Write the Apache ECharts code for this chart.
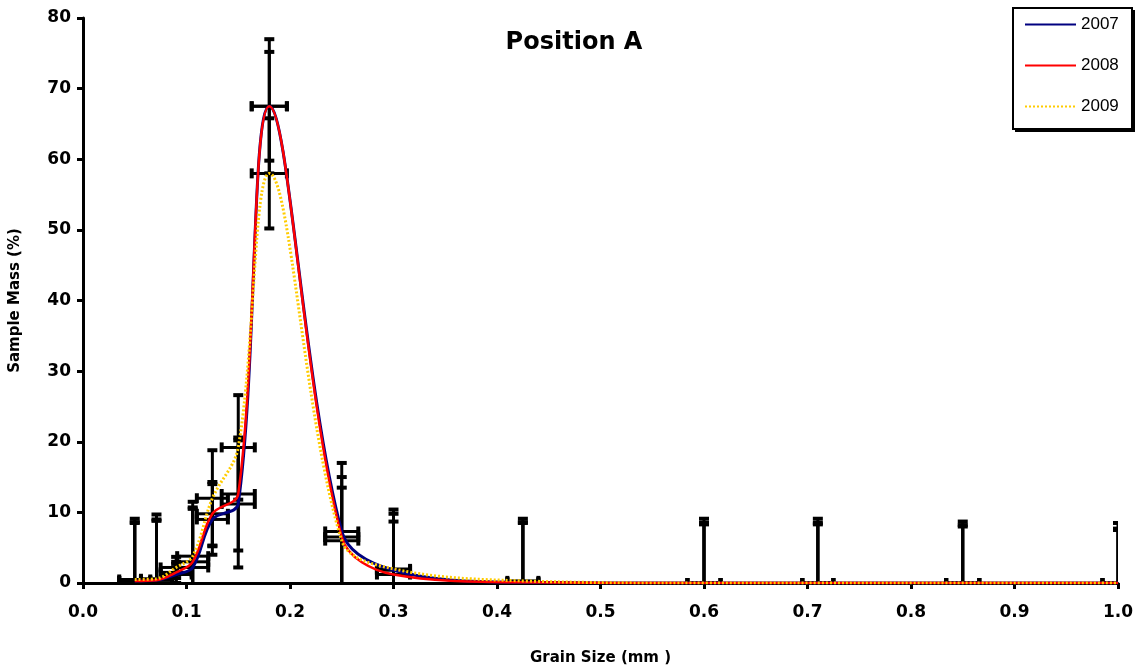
<!DOCTYPE html>
<html>
<head>
<meta charset="utf-8">
<script src="https://cdn.jsdelivr.net/npm/echarts@6/dist/echarts.min.js"></script>
<style>html,body{margin:0;padding:0;background:#fff;}#chart{width:1139px;height:671px;}</style>
</head>
<body>
<div id="chart"></div>
<script>
// Sieve sizes (mm)
const grainSizes = [0.05, 0.071, 0.09, 0.106, 0.125, 0.15, 0.18, 0.25, 0.3, 0.425, 0.6, 0.71, 0.85, 1.0];
// Sample mass (%) per year
const mass2007 = [0.3, 0.4, 1.2, 2.2, 9.0, 11.2, 67.5, 7.3, 1.8, 0.1, 0, 0, 0, 0];
const mass2008 = [0.3, 0.4, 1.5, 3.0, 9.8, 12.6, 67.5, 6.5, 1.2, 0.1, 0, 0, 0, 0];
const mass2009 = [0.5, 0.6, 2.2, 3.8, 12.0, 19.2, 58.0, 6.0, 2.0, 0.3, 0, 0, 0, 0];
// Y error (%) per year
const yErr2007 = [8.8, 9.3, 1.5, 8.5, 5.0, 9.0, 9.5, 9.7, 8.0, 9.0, 9.1, 9.1, 8.7, 8.5];
const yErr2008 = [8.3, 8.6, 1.5, 7.5, 4.5, 8.0, 7.7, 8.5, 7.5, 8.5, 8.5, 8.5, 8.2, 7.7];
const yErr2009 = [8.0, 8.2, 1.5, 7.7, 6.8, 7.4, 7.8, 7.5, 8.4, 8.2, 8.3, 8.3, 8.0, 7.5];
// X error (mm), same for each year
const xErr = [0.015, 0.015, 0.015, 0.015, 0.015, 0.016, 0.017, 0.016, 0.016, 0.015, 0.016, 0.015, 0.016, 0.015];
const yTicks = [0, 10, 20, 30, 40, 50, 60, 70, 80];
const years = ['2007', '2008', '2009'];

function pairs(vals) { return grainSizes.map((x, i) => [x, vals[i]]); }
function errData(vals, ye) { return grainSizes.map((x, i) => [x, vals[i], xErr[i], ye[i]]); }

const X_MIN = 0, X_MAX = 1, Y_MIN = 0, Y_MAX = 80;

function renderErr(params, api) {
  const x = api.value(0), y = api.value(1), ex = api.value(2), ey = api.value(3);
  const yLo = Math.max(Y_MIN, y - ey), yHi = Math.min(Y_MAX, y + ey);
  const xLo = Math.max(X_MIN, x - ex), xHi = Math.min(X_MAX, x + ex);
  const pTop = api.coord([x, yHi]);
  const pBot = api.coord([x, yLo]);
  const pL = api.coord([xLo, y]);
  const pR = api.coord([xHi, y]);
  const st = { stroke: '#000', lineWidth: 3 };
  const capSt = { stroke: '#000', lineWidth: 4 };
  const cw = 5;
  const children = [
    { type: 'line', shape: { x1: pTop[0], y1: pTop[1], x2: pBot[0], y2: pBot[1] }, style: st },
    { type: 'line', shape: { x1: pTop[0] - cw, y1: pTop[1], x2: pTop[0] + cw, y2: pTop[1] }, style: capSt },
    { type: 'line', shape: { x1: pL[0], y1: pL[1], x2: pR[0], y2: pR[1] }, style: st },
  ];
  if (y - ey >= Y_MIN) children.push({ type: 'line', shape: { x1: pBot[0] - cw, y1: pBot[1], x2: pBot[0] + cw, y2: pBot[1] }, style: capSt });
  if (x - ex >= X_MIN) children.push({ type: 'line', shape: { x1: pL[0], y1: pL[1] - cw, x2: pL[0], y2: pL[1] + cw }, style: capSt });
  if (x + ex <= X_MAX) children.push({ type: 'line', shape: { x1: pR[0], y1: pR[1] - cw, x2: pR[0], y2: pR[1] + cw }, style: capSt });
  return { type: 'group', children };
}

const chart = echarts.init(document.getElementById('chart'), null, { renderer: 'canvas' });
const boldFont = 'DejaVu Sans';
chart.setOption({
  animation: false,
  backgroundColor: '#ffffff',
  title: {
    text: 'Position A', left: 569, top: 26, textAlign: 'center',
    textStyle: { fontFamily: boldFont, fontWeight: 'bold', fontSize: 24, color: '#000' }
  },
  graphic: [
    { type: 'rect', z: 0, left: 1015, top: 10, shape: { width: 120, height: 122 }, style: { fill: '#000' } },
    { type: 'rect', z: 1, left: 1012, top: 7, shape: { width: 119, height: 121 }, style: { fill: '#fff', stroke: '#000', lineWidth: 2 } }
  ],
  legend: {
    data: years, orient: 'vertical', left: 1024, top: 16,
    itemWidth: 51, itemHeight: 14, itemGap: 24,
    padding: 0,
    itemStyle: { opacity: 0 },
    z: 10,
    textStyle: { fontFamily: 'Liberation Sans', fontSize: 17, color: '#000' }
  },
  grid: { left: 82, right: 21, top: 18, bottom: 84, containLabel: false },
  xAxis: {
    type: 'value', min: X_MIN, max: X_MAX, interval: 0.1,
    name: 'Grain Size (mm )', nameLocation: 'middle', nameGap: 68,
    nameTextStyle: { fontFamily: boldFont, fontWeight: 'bold', fontSize: 15, color: '#000' },
    axisLine: { show: true, lineStyle: { color: '#000', width: 3 } },
    axisTick: { show: true, inside: false, length: 6, lineStyle: { color: '#000', width: 3 } },
    axisLabel: { fontFamily: boldFont, fontWeight: 'bold', fontSize: 17, color: '#000', margin: 21, formatter: v => v.toFixed(1) },
    splitLine: { show: false }
  },
  yAxis: {
    type: 'value', min: Y_MIN, max: Y_MAX, interval: 10,
    name: 'Sample Mass (%)', nameLocation: 'middle', nameGap: 60,
    nameTextStyle: { fontFamily: boldFont, fontWeight: 'bold', fontSize: 15, color: '#000' },
    axisLine: { show: true, lineStyle: { color: '#000', width: 3 } },
    axisTick: { show: true, inside: false, length: 6, lineStyle: { color: '#000', width: 3 } },
    axisLabel: { fontFamily: boldFont, fontWeight: 'bold', fontSize: 17, color: '#000', margin: 12,
      formatter: v => (yTicks.indexOf(v) >= 0 ? String(v) : '') },
    splitLine: { show: false }
  },
  series: [
    { type: 'custom', name: 'err2009', renderItem: renderErr, data: errData(mass2009, yErr2009), z: 1, silent: true, clip: true },
    { type: 'custom', name: 'err2008', renderItem: renderErr, data: errData(mass2008, yErr2008), z: 1, silent: true, clip: true },
    { type: 'custom', name: 'err2007', renderItem: renderErr, data: errData(mass2007, yErr2007), z: 1, silent: true, clip: true },
    { type: 'line', name: '2007', data: pairs(mass2007), smooth: 0.35, symbol: 'none', z: 3,
      lineStyle: { color: '#000080', width: 3 }, itemStyle: { color: '#000080' } },
    { type: 'line', name: '2008', data: pairs(mass2008), smooth: 0.35, symbol: 'none', z: 4,
      lineStyle: { color: '#ff0000', width: 2.5 }, itemStyle: { color: '#ff0000' } },
    { type: 'line', name: '2009', data: pairs(mass2009), smooth: 0.35, symbol: 'none', z: 5,
      lineStyle: { color: '#ffcc00', width: 3, type: [2, 2] }, itemStyle: { color: '#ffcc00' } }
  ]
});
</script>
</body>
</html>
